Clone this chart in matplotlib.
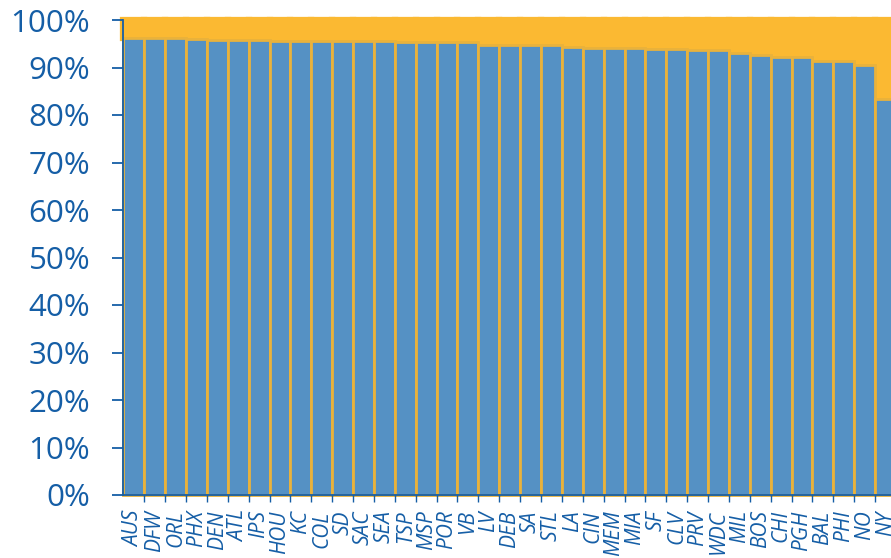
import matplotlib
matplotlib.use("Agg")
import matplotlib.pyplot as plt
from matplotlib.ticker import FixedLocator, FuncFormatter

# Share of each metro (percent) and the remainder up to 100%
cities = ["AUS", "DFW", "ORL", "PHX", "DEN", "ATL", "IPS", "HOU", "KC", "COL",
          "SD", "SAC", "SEA", "TSP", "MSP", "POR", "VB", "LV", "DEB", "SA",
          "STL", "LA", "CIN", "MEM", "MIA", "SF", "CLV", "PRV", "WDC", "MIL",
          "BOS", "CHI", "PGH", "BAL", "PHI", "NO", "NY"]
share = [96.3, 96.3, 96.3, 96.1, 95.8, 95.8, 95.8, 95.6, 95.6, 95.6,
         95.6, 95.6, 95.6, 95.3, 95.3, 95.3, 95.3, 94.7, 94.7, 94.7,
         94.7, 94.4, 94.2, 94.2, 94.2, 93.9, 93.9, 93.7, 93.7, 93.1,
         92.6, 92.2, 92.2, 91.4, 91.4, 90.6, 83.4]
rest = [100 - v for v in share]
y_ticks = list(range(0, 101, 10))

BLUE = "#5591c4"
ORANGE = "#fbb932"
EDGE = "#e9b23c"
TEXT = "#155ea6"

DPI = 100
fig = plt.figure(figsize=(8.91, 5.58), dpi=DPI)
W, H = 891, 558
left_px, right_px = 123.4, 123.4 + 37 * 20.88
bottom_px, top_px = 495, 20
ax = fig.add_axes([left_px / W, (H - bottom_px) / H,
                   (right_px - left_px) / W, (bottom_px - top_px) / H])

x = list(range(len(cities)))
ax.bar(x, rest, bottom=share, width=1.0, color=ORANGE, edgecolor=ORANGE,
       linewidth=4.5, clip_on=False, zorder=1)
ax.bar(x, share, width=1.0, color=BLUE, edgecolor=EDGE,
       linewidth=2.0, clip_on=False, zorder=1.5)

ax.set_xlim(-0.5, len(cities) - 0.5)
ax.set_ylim(0, 100)

for side in ("top", "right"):
    ax.spines[side].set_visible(False)
for side in ("left", "bottom"):
    ax.spines[side].set_color(TEXT)
    ax.spines[side].set_linewidth(1.3)
    ax.spines[side].set_zorder(3)

ax.yaxis.set_major_locator(FixedLocator(y_ticks))
ax.yaxis.set_major_formatter(FuncFormatter(lambda v, p: f"{int(v)}%"))
ax.tick_params(axis="y", which="major", length=8, width=1.3, color=TEXT,
               labelcolor=TEXT, labelsize=22.5, pad=16)
for lab in ax.get_yticklabels():
    lab.set_family("Open Sans")

ax.set_xticks(x)
ax.set_xticklabels(cities, rotation=90, fontsize=15, color=TEXT,
                   family="Open Sans", style="italic")
ax.set_xticks([i + 0.5 for i in range(len(cities) - 1)], minor=True)
ax.tick_params(axis="x", which="major", length=0, pad=11)
ax.tick_params(axis="x", which="minor", length=5, width=1.0, color=TEXT)

fig.savefig("out.png", dpi=DPI)
